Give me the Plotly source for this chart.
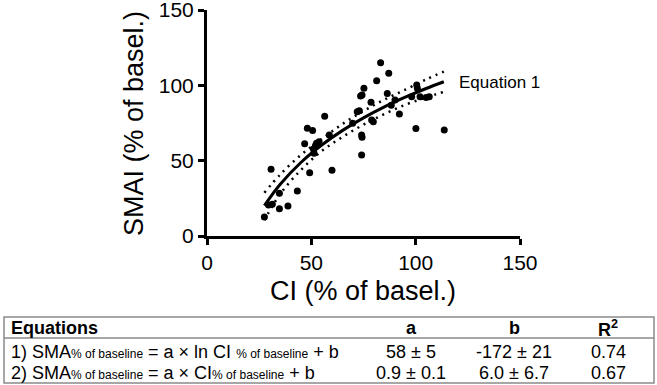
import plotly.graph_objects as go

# ---------------- data ----------------
ci_x = [27.5, 29.5, 30.7, 31.3, 34.7, 34.7, 38.8, 43.3, 46.8, 48.1, 49.2, 50.6,
        51.0, 51.3, 52.0, 52.5, 53.7, 56.4, 58.6, 59.9, 69.8, 72.0, 73.0, 74.1,
        74.1, 74.3, 73.6, 74.3, 75.2, 78.6, 78.9, 79.7, 81.3, 83.2, 87.1, 86.4,
        88.3, 90.1, 92.2, 98.1, 100.5, 100.8, 100.1, 102.1, 106.5, 105.0, 113.7]
smai_y = [12.6, 20.5, 44.3, 21.0, 18.1, 28.3, 19.9, 29.9, 61.3, 71.5, 42.0, 70.1,
          57.7, 55.0, 60.0, 61.5, 62.6, 79.4, 67.0, 43.6, 74.8, 82.5, 83.1, 53.7,
          67.0, 65.5, 92.9, 93.6, 98.0, 88.7, 77.0, 75.8, 103.0, 115.0, 108.0, 94.5,
          86.7, 90.2, 81.0, 92.5, 100.2, 98.0, 71.4, 92.5, 92.5, 92.0, 70.3]

fit_x = [27.5, 35, 45, 55, 65, 75, 85, 95, 105, 113.5]
fit_y = [20.2, 34.2, 48.8, 60.4, 70.1, 78.4, 85.7, 92.1, 97.9, 102.4]
band_upper = [28.7, 40.7, 53.8, 64.4, 74.4, 82.9, 90.5, 97.1, 103.9, 109.1]
band_lower = [10.5, 27.7, 43.8, 56.4, 65.8, 73.9, 80.9, 87.1, 91.9, 95.7]

axis_ticks = [0, 50, 100, 150]
x_title = "CI (% of basel.)"
y_title = "SMAI (% of basel.)"
curve_label = "Equation 1"

SUB = '<span style="font-size:12px">% of baseline</span>'
table_header = ["Equations", "a", "b", "R<sup>2</sup>"]
table_rows = [
    ["1) SMA" + SUB + " = a × ln CI " + SUB + " + b", "58 ± 5", "-172 ± 21", "0.74"],
    ["2) SMA" + SUB + " = a × CI" + SUB + " + b", "0.9 ± 0.1", "6.0 ± 6.7", "0.67"],
]

# ---------------- layout geometry (pixels) ----------------
W, H = 657, 385
PL, PR, PT, PB = 207, 520, 10, 236

def px(x):
    return (x - PL) / (PR - PL)

def py(y):
    return (PB - y) / (PB - PT)

FONT = "Arial, Liberation Sans, sans-serif"

fig = go.Figure()
fig.add_trace(go.Scatter(x=fit_x, y=band_upper, mode="lines", line_shape="spline",
                         line=dict(color="black", width=2.5, dash="2px,5px"), hoverinfo="skip"))
fig.add_trace(go.Scatter(x=fit_x, y=band_lower, mode="lines", line_shape="spline",
                         line=dict(color="black", width=2.5, dash="2px,5px"), hoverinfo="skip"))
fig.add_trace(go.Scatter(x=ci_x, y=smai_y, mode="markers",
                         marker=dict(color="black", size=7)))
fig.add_trace(go.Scatter(x=fit_x, y=fit_y, mode="lines", line_shape="spline",
                         line=dict(color="black", width=3)))

axis_common = dict(range=[0, 150], tickvals=axis_ticks, showgrid=False, zeroline=False,
                   showline=True, linecolor="black", linewidth=3,
                   ticks="outside", ticklen=6, tickwidth=3, tickcolor="black",
                   ticklabeloverflow="allow", automargin=False,
                   tickfont=dict(family=FONT, size=21, color="black"))

fig.update_layout(
    width=W, height=H,
    margin=dict(l=PL, r=W - PR, t=PT, b=H - PB, pad=0, autoexpand=False),
    plot_bgcolor="white", paper_bgcolor="white",
    showlegend=False,
    xaxis=dict(**axis_common),
    yaxis=dict(**axis_common),
    font=dict(family=FONT, color="black"),
)

ann = []
# axis titles
ann.append(dict(text=x_title, x=px(363), y=py(291), xref="paper", yref="paper",
                xanchor="center", yanchor="middle", showarrow=False,
                font=dict(family=FONT, size=27, color="black")))
ann.append(dict(text=y_title, x=px(134), y=py(124), xref="paper", yref="paper",
                xanchor="center", yanchor="middle", showarrow=False, textangle=-90,
                font=dict(family=FONT, size=27, color="black")))
# curve label
ann.append(dict(text=curve_label, x=px(457), y=py(83), xref="paper", yref="paper",
                xanchor="left", yanchor="middle", showarrow=False,
                font=dict(family=FONT, size=17, color="black")))

# table
col_x = [9, 411, 514, 608]
row_y = [328, 352, 373]
for j, h in enumerate(table_header):
    ann.append(dict(text="<b>%s</b>" % h, x=px(col_x[j]), y=py(row_y[0]), xref="paper", yref="paper",
                    xanchor="left" if j == 0 else "center", yanchor="middle", showarrow=False,
                    font=dict(family=FONT, size=18, color="black")))
for i, row in enumerate(table_rows):
    for j, cell in enumerate(row):
        ann.append(dict(text=cell, x=px(col_x[j]), y=py(row_y[i + 1]),
                        xref="paper", yref="paper",
                        xanchor="left" if j == 0 else "center", yanchor="middle", showarrow=False,
                        font=dict(family=FONT, size=18, color="black")))
fig.update_layout(annotations=ann)

line_style = dict(color="#8a8a8a", width=1.5)
shapes = [
    dict(type="rect", xref="paper", yref="paper", x0=px(4), x1=px(654), y0=py(317), y1=py(383),
         line=line_style, fillcolor="rgba(0,0,0,0)"),
    dict(type="line", xref="paper", yref="paper", x0=px(4), x1=px(654), y0=py(338), y1=py(338),
         line=line_style),
]
fig.update_layout(shapes=shapes)

fig.write_html("out.html", config={"displayModeBar": False},
               post_script="document.body.style.margin='0';")
